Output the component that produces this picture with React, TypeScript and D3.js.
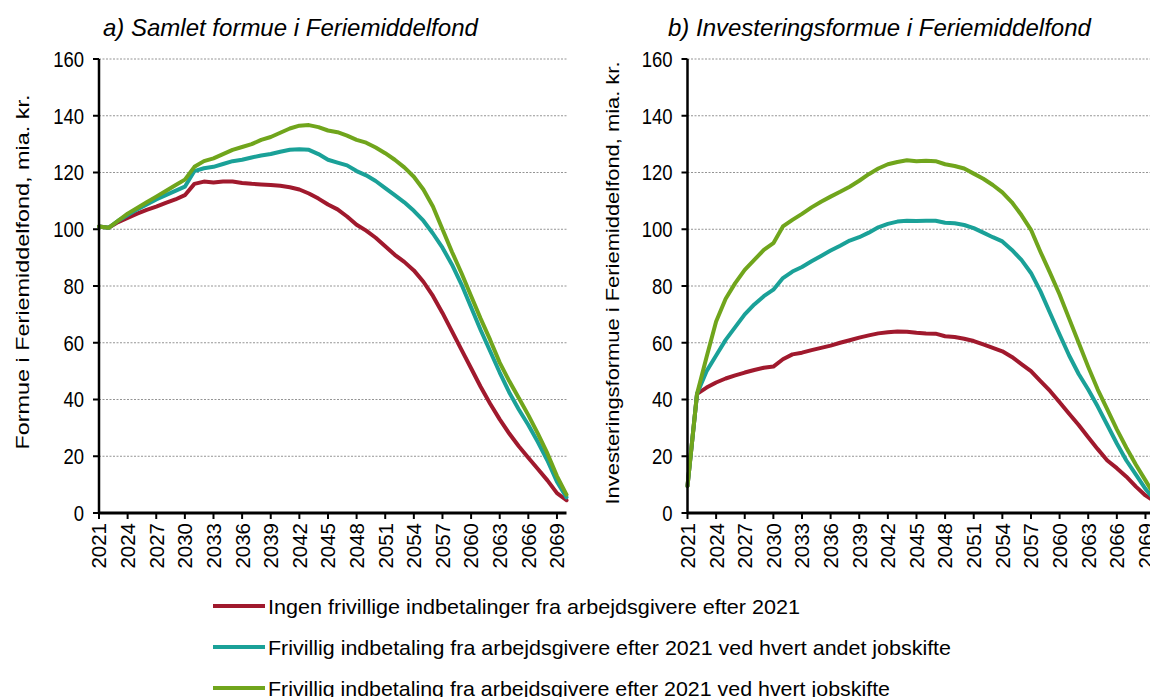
import React from 'react';
import * as d3 from 'd3';

const years: number[] = d3.range(2021, 2071);
const xTickYears = [2021, 2024, 2027, 2030, 2033, 2036, 2039, 2042, 2045, 2048, 2051, 2054, 2057, 2060, 2063, 2066, 2069];
const yTicks = [0, 20, 40, 60, 80, 100, 120, 140, 160];

const seriesNames = [
  'Ingen frivillige indbetalinger fra arbejdsgivere efter 2021',
  'Frivillig indbetaling fra arbejdsgivere efter 2021 ved hvert andet jobskifte',
  'Frivillig indbetaling fra arbejdsgivere efter 2021 ved hvert jobskifte',
];
const seriesColors = ['#A0192D', '#1AA198', '#70A51C'];

// Panel a) Samlet formue
const leftNone = [101, 100.5, 102.5, 104, 105.5, 106.8, 108, 109.3, 110.5, 112,
  116, 116.8, 116.5, 116.8, 116.8, 116.3, 116, 115.8, 115.6, 115.3,
  114.8, 114, 112.6, 110.8, 108.7, 107, 104.5, 101.6, 99.5, 97,
  94, 91, 88.5, 85.5, 81.5, 76.5, 70.5, 64, 57.5, 51,
  44.5, 38.5, 33, 28, 23.5, 19.5, 15.5, 11.5, 7, 4.5];
const leftEveryOther = [101, 100.5, 103, 105, 107, 108.7, 110.5, 112, 113.5, 115,
  120.5, 121.5, 122, 123, 124, 124.5, 125.3, 126, 126.5, 127.3,
  128, 128.2, 128, 126.5, 124.5, 123.5, 122.5, 120.5, 119, 117,
  114.5, 112, 109.5, 106.5, 103, 98.5, 93.5, 87.5, 80.5, 72.5,
  64.5, 57, 49.5, 42.5, 36.5, 31, 25, 18.5, 11, 5.5];
const leftEvery = [101, 100.5, 103, 105.5, 107.5, 109.5, 111.5, 113.5, 115.5, 117.5,
  122, 124, 125, 126.5, 128, 129, 130, 131.5, 132.5, 134,
  135.5, 136.5, 136.7, 136, 134.8, 134.2, 133, 131.5, 130.5, 128.8,
  126.8, 124.5, 121.8, 118.5, 114, 108, 100, 92, 84.5, 76.5,
  68.5, 61, 53, 46.5, 40.5, 34.5, 28, 21, 13, 6.5];

// Panel b) Investeringsformue
const rightNone = [9.5, 42, 44.2, 46, 47.4, 48.5, 49.5, 50.4, 51.2, 51.6,
  54.2, 55.9, 56.5, 57.4, 58.2, 59, 60, 60.9, 61.8, 62.6,
  63.3, 63.7, 64, 63.9, 63.5, 63.3, 63.2, 62.3, 62, 61.4,
  60.6, 59.4, 58.2, 57, 55, 52.5, 50, 46.5, 43, 39,
  35, 31, 26.7, 22.5, 18.5, 15.8, 12.8, 9.3, 6.2, 4];
const rightEveryOther = [9.5, 42, 50, 55.5, 61, 65.5, 70, 73.5, 76.4, 78.7,
  82.8, 85.1, 86.7, 88.7, 90.6, 92.5, 94.2, 96, 97.2, 98.8,
  100.7, 101.9, 102.7, 103, 102.9, 103, 103, 102.3, 102.1, 101.5,
  100.4, 98.8, 97.2, 95.7, 92.7, 89.2, 84.6, 78.1, 70.5, 62.9,
  55.5, 49, 43.5, 37.5, 31, 24.5, 18.5, 13.5, 8.5, 4.5];
const rightEvery = [9.5, 42, 55, 67.5, 75.5, 81, 85.7, 89.2, 92.7, 95.1,
  101, 103.3, 105.4, 107.7, 109.7, 111.5, 113.2, 115, 117.1, 119.4,
  121.4, 122.9, 123.7, 124.3, 124, 124.1, 124, 122.9, 122.3, 121.4,
  119.6, 117.8, 115.6, 113, 109.5, 105, 99.8, 92, 84.6, 77,
  68.5, 60, 51.5, 43.5, 36.5, 29.5, 23, 17, 11.5, 6];

const FONT = '"Liberation Sans", Arial, sans-serif';
const W = 1150;
const H = 697;
const Y_TOP = 59;
const Y_BOTTOM = 513;

type PanelProps = {
  x0: number;
  x1: number;
  title: string;
  titleX: number;
  yTitle: string;
  yTitleX: number;
  yTitleY: number;
  yTitleLen: number;
  series: number[][];
};

function Panel({ x0, x1, title, titleX, yTitle, yTitleX, yTitleY, yTitleLen, series }: PanelProps) {
  const x = d3.scaleLinear().domain([years[0], years[years.length - 1]]).range([x0, x1]);
  const y = d3.scaleLinear().domain([0, 160]).range([Y_BOTTOM, Y_TOP]);
  const line = d3
    .line<number>()
    .x((_, i) => x(years[i]))
    .y((d) => y(d));
  const axisEnd = Math.min(x1, W + 10);
  return (
    <g>
      <text x={titleX} y={36} fontFamily={FONT} fontStyle="italic" fontSize={24} fill="#000">
        {title}
      </text>
      {yTicks.filter((t) => t > 0).map((t) => (
        <line key={'g' + t} x1={x0} x2={axisEnd} y1={y(t)} y2={y(t)} stroke="#949494" strokeWidth={1} strokeDasharray="2,1.5" />
      ))}
      {series.map((s, i) => (
        <path key={'s' + i} d={line(s) || ''} fill="none" stroke={seriesColors[i]} strokeWidth={4} strokeLinejoin="round" strokeLinecap="round" />
      ))}
      <line x1={x0} x2={x0} y1={Y_TOP} y2={Y_BOTTOM} stroke="#000" strokeWidth={2.5} />
      <line x1={x0} x2={axisEnd} y1={Y_BOTTOM} y2={Y_BOTTOM} stroke="#000" strokeWidth={3} />
      {yTicks.map((t) => (
        <g key={'yt' + t}>
          <line x1={x0 - 6} x2={x0} y1={y(t)} y2={y(t)} stroke="#000" strokeWidth={2} />
          <text
            transform={`translate(${x0 - 15},${y(t)}) scale(1,1.18)`}
            dy="0.36em"
            textAnchor="end"
            fontFamily={FONT}
            fontSize={18.5}
            fill="#000"
          >
            {t}
          </text>
        </g>
      ))}
      {xTickYears.map((yr) => (
        <g key={'xt' + yr}>
          <line x1={x(yr)} x2={x(yr)} y1={Y_BOTTOM} y2={Y_BOTTOM + 6} stroke="#000" strokeWidth={2} />
          <text
            transform={`translate(${x(yr)},${Y_BOTTOM + 10}) rotate(-90)`}
            dy="0.36em"
            textAnchor="end"
            fontFamily={FONT}
            fontSize={20.5}
            fill="#000"
          >
            {yr}
          </text>
        </g>
      ))}
      <text
        transform={`translate(${yTitleX},${yTitleY}) rotate(-90)`}
        textAnchor="middle"
        fontFamily={FONT}
        fontSize={19}
        textLength={yTitleLen}
        lengthAdjust="spacingAndGlyphs"
        fill="#000"
      >
        {yTitle}
      </text>
    </g>
  );
}

export default function App() {
  const legendY = [606, 647, 688];
  const legendLen = [532, 683, 622];
  return (
    <svg width={W} height={H} style={{ position: 'absolute', left: 0, top: 0, background: '#fff' }}>
      <rect x={0} y={0} width={W} height={H} fill="#fff" />
      <Panel
        x0={99}
        x1={566.5}
        title="a) Samlet formue i Feriemiddelfond"
        titleX={103}
        yTitle="Formue i Feriemiddelfond, mia. kr."
        yTitleX={29}
        yTitleY={272}
        yTitleLen={355}
        series={[leftNone, leftEveryOther, leftEvery]}
      />
      <Panel
        x0={687.5}
        x1={1155}
        title="b) Investeringsformue i Feriemiddelfond"
        titleX={668}
        yTitle="Investeringsformue i Feriemiddelfond, mia. kr."
        yTitleX={619}
        yTitleY={283}
        yTitleLen={443}
        series={[rightNone, rightEveryOther, rightEvery]}
      />
      {seriesNames.map((name, i) => (
        <g key={'lg' + i}>
          <line x1={213} x2={265} y1={legendY[i]} y2={legendY[i]} stroke={seriesColors[i]} strokeWidth={4} />
          <text
            x={268}
            y={legendY[i]}
            dy="0.36em"
            fontFamily={FONT}
            fontSize={21}
            textLength={legendLen[i]}
            lengthAdjust="spacingAndGlyphs"
            fill="#000"
          >
            {name}
          </text>
        </g>
      ))}
    </svg>
  );
}
